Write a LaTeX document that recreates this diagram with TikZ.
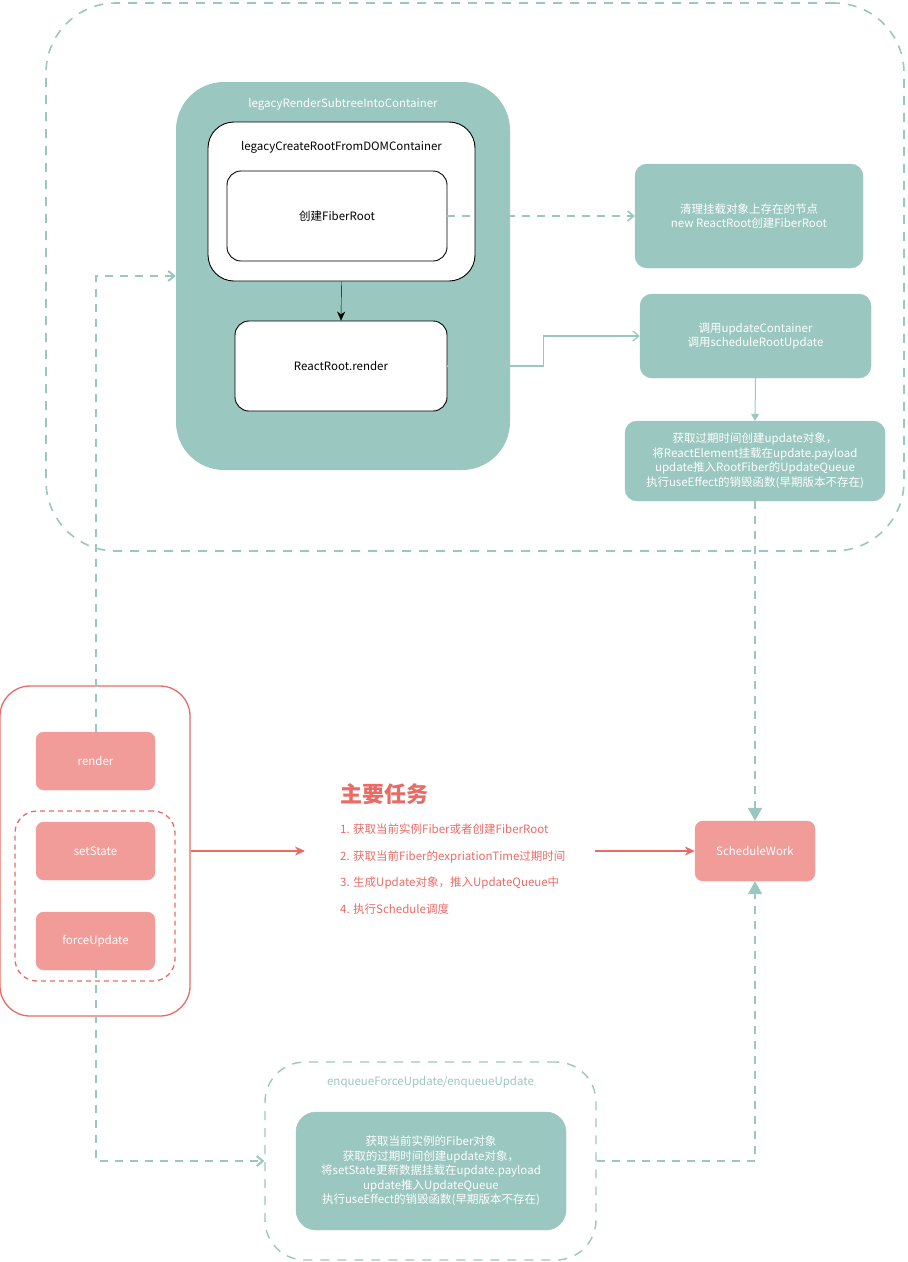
\documentclass[tikz,border=0pt]{standalone}
\usepackage{fontspec}
\setmainfont{Noto Sans CJK SC}
\usetikzlibrary{arrows.meta}

\definecolor{tealc}{HTML}{9AC7BF}
\definecolor{redc}{HTML}{EA6B66}
\definecolor{pinkc}{HTML}{F19C99}

\tikzset{
  txt/.style={font=\fontsize{11.5}{14.5}\selectfont, align=center},
  tealbox/.style={txt, fill=tealc, draw=tealc, text=white, rounded corners=12pt},
  whitebox/.style={txt, fill=white, draw=black, line width=0.9pt, rounded corners=14pt},
  pinkbox/.style={txt, fill=pinkc, draw=pinkc, text=white, rounded corners=8pt},
  tealdash/.style={draw=tealc, line width=2pt, dash pattern=on 8pt off 7pt},
  openhead/.style={-{Straight Barb[length=6pt,width=10pt]}},
  fullhead/.style={-{Triangle[length=13pt,width=14pt]}},
  redline/.style={draw=redc, line width=1.3pt, -{Stealth[length=10pt,width=9pt]}}
}

\begin{document}
\begin{tikzpicture}[x=1pt,y=-1pt]
  \useasboundingbox (0,0) rectangle (908,1262);

  % upper group
  \node[draw=tealc, line width=1.6pt, dash pattern=on 9pt off 8pt, rounded corners=70pt,
        minimum width=858pt, minimum height=548pt, inner sep=0pt] (rootgroup) at (475,277) {};
  \node[fill=tealc, rounded corners=48pt, minimum width=334pt, minimum height=388pt, inner sep=0pt] (legacy) at (343,276) {};
  \node[txt, text=white] (legacylbl) at (343,104) {legacyRenderSubtreeIntoContainer};
  \node[whitebox, rounded corners=26pt, minimum width=267pt, minimum height=159pt, inner sep=0pt] (createroot) at (341.5,201.5) {};
  \node[txt] (createlbl) at (341.5,147) {legacyCreateRootFromDOMContainer};
  \node[whitebox, minimum width=220pt, minimum height=90pt] (fiberroot) at (337,216) {创建FiberRoot};
  \node[whitebox, minimum width=212pt, minimum height=90pt] (reactrender) at (341,366) {ReactRoot.render};

  \node[tealbox, minimum width=228pt, minimum height=104pt] (clean) at (749,216) {清理挂载对象上存在的节点\\new ReactRoot创建FiberRoot};
  \node[tealbox, minimum width=231pt, minimum height=84pt] (calls) at (755.5,336) {调用updateContainer\\调用scheduleRootUpdate};
  \node[tealbox, minimum width=260pt, minimum height=80pt, inner sep=2pt] (expire) at (755,461) {获取过期时间创建update对象，\\将ReactElement挂载在update.payload\\update推入RootFiber的UpdateQueue\\执行useEffect的销毁函数(早期版本不存在)};

  \draw[-{Stealth[length=9pt,width=8pt]}] (createroot.south) -- (reactrender.north);
  \draw[tealdash, line width=1.6pt, openhead] (fiberroot.east) -- (clean.west);
  \draw[draw=tealc, line width=1.3pt, openhead] (reactrender.east) -- ++(96,0) |- (calls.west);
  \draw[draw=tealc, line width=1pt, -{Triangle[length=7pt,width=8pt]}] (calls.south) -- (expire.north);

  % callers
  \node[draw=redc, line width=1.3pt, rounded corners=30pt, minimum width=190pt, minimum height=330pt, inner sep=0pt] (callers) at (95,851) {};
  \node[draw=redc, line width=1.3pt, dash pattern=on 5pt off 4pt, rounded corners=22pt, minimum width=160pt, minimum height=170pt, inner sep=0pt] (statebox) at (95,896) {};
  \node[pinkbox, minimum width=119pt, minimum height=58pt] (render) at (95.5,761) {render};
  \node[pinkbox, minimum width=119pt, minimum height=58pt] (setstate) at (95.5,851) {setState};
  \node[pinkbox, minimum width=119pt, minimum height=58pt] (force) at (95.5,941) {forceUpdate};

  \draw[tealdash, openhead] (render.north) |- (legacy.west);

  % tasks
  \node[anchor=north west, text=redc, font=\fontsize{22}{26}\selectfont\bfseries, inner sep=0pt] (tasktitle) at (340,783) {主要任务};
  \node[anchor=north west, text=redc, align=left, font=\fontsize{11.5}{26.5}\selectfont, inner sep=0pt] (tasks) at (340,824)
    {1. 获取当前实例Fiber或者创建FiberRoot\\2. 获取当前Fiber的expriationTime过期时间\\3. 生成Update对象，推入UpdateQueue中\\4. 执行Schedule调度};
  \coordinate (taskin) at (305,851);
  \coordinate (taskout) at (595,851);

  \node[pinkbox, minimum width=120pt, minimum height=60pt] (schedule) at (755,851) {ScheduleWork};

  \draw[redline] (callers.east) -- (taskin);
  \draw[redline] (taskout) -- (schedule.west);
  \draw[tealdash, fullhead] (expire.south) -- (schedule.north);

  % enqueue group
  \node[draw=tealc, line width=1.4pt, dash pattern=on 9pt off 8pt, rounded corners=40pt,
        minimum width=331pt, minimum height=198pt, inner sep=0pt] (enqgroup) at (430.5,1161) {};
  \node[txt, text=tealc] (enqlbl) at (430.5,1082) {enqueueForceUpdate/enqueueUpdate};
  \node[tealbox, rounded corners=20pt, minimum width=270pt, minimum height=118pt] (enqtask) at (431,1171)
    {获取当前实例的Fiber对象\\获取的过期时间创建update对象，\\将setState更新数据挂载在update.payload\\update推入UpdateQueue\\执行useEffect的销毁函数(早期版本不存在)};

  \draw[tealdash, openhead] (force.south) |- (enqgroup.west);
  \draw[tealdash, fullhead] (enqgroup.east) -| (schedule.south);
\end{tikzpicture}
\end{document}
